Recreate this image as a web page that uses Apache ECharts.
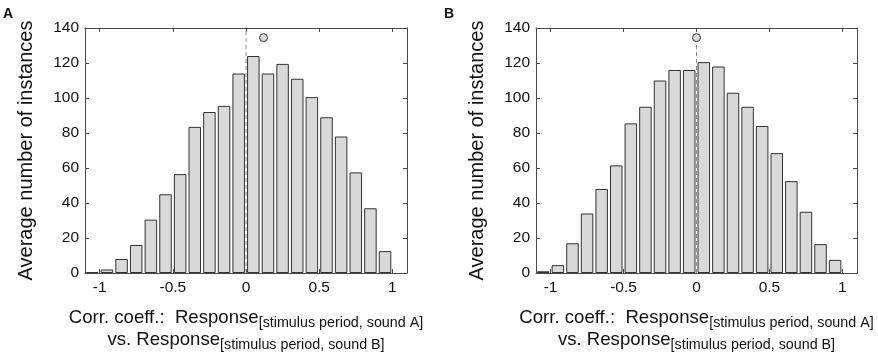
<!DOCTYPE html>
<html>
<head>
<meta charset="utf-8">
<script src="https://cdn.jsdelivr.net/npm/echarts@6/dist/echarts.min.js"></script>
<style>
  html, body { margin: 0; padding: 0; background: #fff; }
  #main { width: 878px; height: 357px; }
</style>
</head>
<body>
<div id="main"></div>
<script>
// histogram bins (bin centres, width 0.1)
var binCenters = [-1.05, -0.95, -0.85, -0.75, -0.65, -0.55, -0.45, -0.35, -0.25, -0.15, -0.05,
                  0.05, 0.15, 0.25, 0.35, 0.45, 0.55, 0.65, 0.75, 0.85, 0.95];
var countsA = [0.5, 2, 8, 16, 30.5, 45, 56.5, 83.5, 92, 95.5, 114,
               124, 114, 119.5, 111, 100.5, 89, 78, 57.5, 37, 12.5];
var countsB = [1, 4.5, 17, 34, 48, 61.5, 85.5, 95, 110, 116, 116,
               120.5, 118, 103, 95, 84, 68.5, 52.5, 35, 16.5, 7.5];
// observed value (circle) for each panel
var markerA = [0.12, 134.5];
var markerB = [0, 134.5];
// dashed reference line at zero
var zeroX = 0;
var refTopA = 140;
var refTopB = 134;

var xTicks = [-1, -0.5, 0, 0.5, 1];
var xMin = -1.1, xMax = 1.1;
var yMin = 0, yMax = 140, yStep = 20;

var font = 'Liberation Sans, Arial, Helvetica, sans-serif';
var frame = '#4a4a4a';

var xName = '{a|Corr. coeff.:  Response}{s|[stimulus period, sound A]}\n' +
            '{a|vs. Response}{s|[stimulus period, sound B]}';

var grids = [
  { left: 85, top: 28, width: 322, height: 246 },
  { left: 536, top: 28, width: 321, height: 246 }
];

var xAxes = [], yAxes = [], series = [];

function addPanel(i, counts, marker, refTop) {
  // bottom x axis
  xAxes.push({
    gridIndex: i, type: 'value', min: xMin, max: xMax, position: 'bottom',
    axisLine: { onZero: false, lineStyle: { color: frame, width: 1 } },
    axisTick: { inside: true, length: 4, customValues: xTicks, lineStyle: { color: frame } },
    axisLabel: { customValues: xTicks, margin: 7, color: '#111', fontSize: 15.5, fontFamily: font },
    splitLine: { show: false },
    name: xName, nameLocation: 'middle', nameGap: 35,
    nameTextStyle: {
      color: '#111', fontFamily: font,
      rich: {
        a: { fontSize: 18.6, lineHeight: 22, fontFamily: font, color: '#111', verticalAlign: 'top' },
        s: { fontSize: 14.3, lineHeight: 8, fontFamily: font, color: '#111', verticalAlign: 'bottom' }
      }
    }
  });
  // top x axis (frame + ticks)
  xAxes.push({
    gridIndex: i, type: 'value', min: xMin, max: xMax, position: 'top',
    axisLine: { onZero: false, lineStyle: { color: frame, width: 1 } },
    axisTick: { inside: true, length: 4, customValues: xTicks, lineStyle: { color: frame } },
    axisLabel: { show: false },
    splitLine: { show: false }
  });
  // left y axis
  yAxes.push({
    gridIndex: i, type: 'value', min: yMin, max: yMax, interval: yStep, position: 'left',
    axisLine: { show: true, onZero: false, lineStyle: { color: frame, width: 1 } },
    axisTick: { show: true, inside: true, length: 4, lineStyle: { color: frame } },
    axisLabel: { margin: 6, color: '#111', fontSize: 15.5, fontFamily: font },
    splitLine: { show: false },
    name: 'Average number of instances', nameLocation: 'middle', nameGap: 49,
    nameTextStyle: { fontSize: 20, color: '#111', fontFamily: font }
  });
  // right y axis (frame + ticks)
  yAxes.push({
    gridIndex: i, type: 'value', min: yMin, max: yMax, interval: yStep, position: 'right',
    axisLine: { show: true, onZero: false, lineStyle: { color: frame, width: 1 } },
    axisTick: { show: true, inside: true, length: 4, lineStyle: { color: frame } },
    axisLabel: { show: false },
    splitLine: { show: false }
  });

  var xi = i * 2, yi = i * 2;
  series.push({
    type: 'bar', xAxisIndex: xi, yAxisIndex: yi,
    data: binCenters.map(function (c, k) { return [c, counts[k]]; }),
    barWidth: 12.5,
    itemStyle: { color: '#d9d9d9', borderColor: '#333', borderWidth: 1 },
    z: 2
  });
  series.push({
    type: 'line', xAxisIndex: xi, yAxisIndex: yi,
    data: [[zeroX, yMin], [zeroX, refTop]],
    symbol: 'none',
    lineStyle: { color: '#8c8c8c', width: 1, type: [4, 3] },
    z: 3
  });
  series.push({
    type: 'scatter', xAxisIndex: xi, yAxisIndex: yi,
    data: [marker],
    symbol: 'circle', symbolSize: 8,
    itemStyle: { color: '#d9d9d9', borderColor: '#333', borderWidth: 1, opacity: 1 },
    z: 4
  });
}

addPanel(0, countsA, markerA, refTopA);
addPanel(1, countsB, markerB, refTopB);

var chart = echarts.init(document.getElementById('main'));
chart.setOption({
  animation: false,
  backgroundColor: '#fff',
  grid: grids,
  xAxis: xAxes,
  yAxis: yAxes,
  series: series,
  graphic: [
    { type: 'text', left: 3, top: 7, style: { text: 'A', fontSize: 14, fontWeight: 'bold', fontFamily: font, fill: '#111' } },
    { type: 'text', left: 444, top: 7, style: { text: 'B', fontSize: 14, fontWeight: 'bold', fontFamily: font, fill: '#111' } }
  ]
});
</script>
</body>
</html>
